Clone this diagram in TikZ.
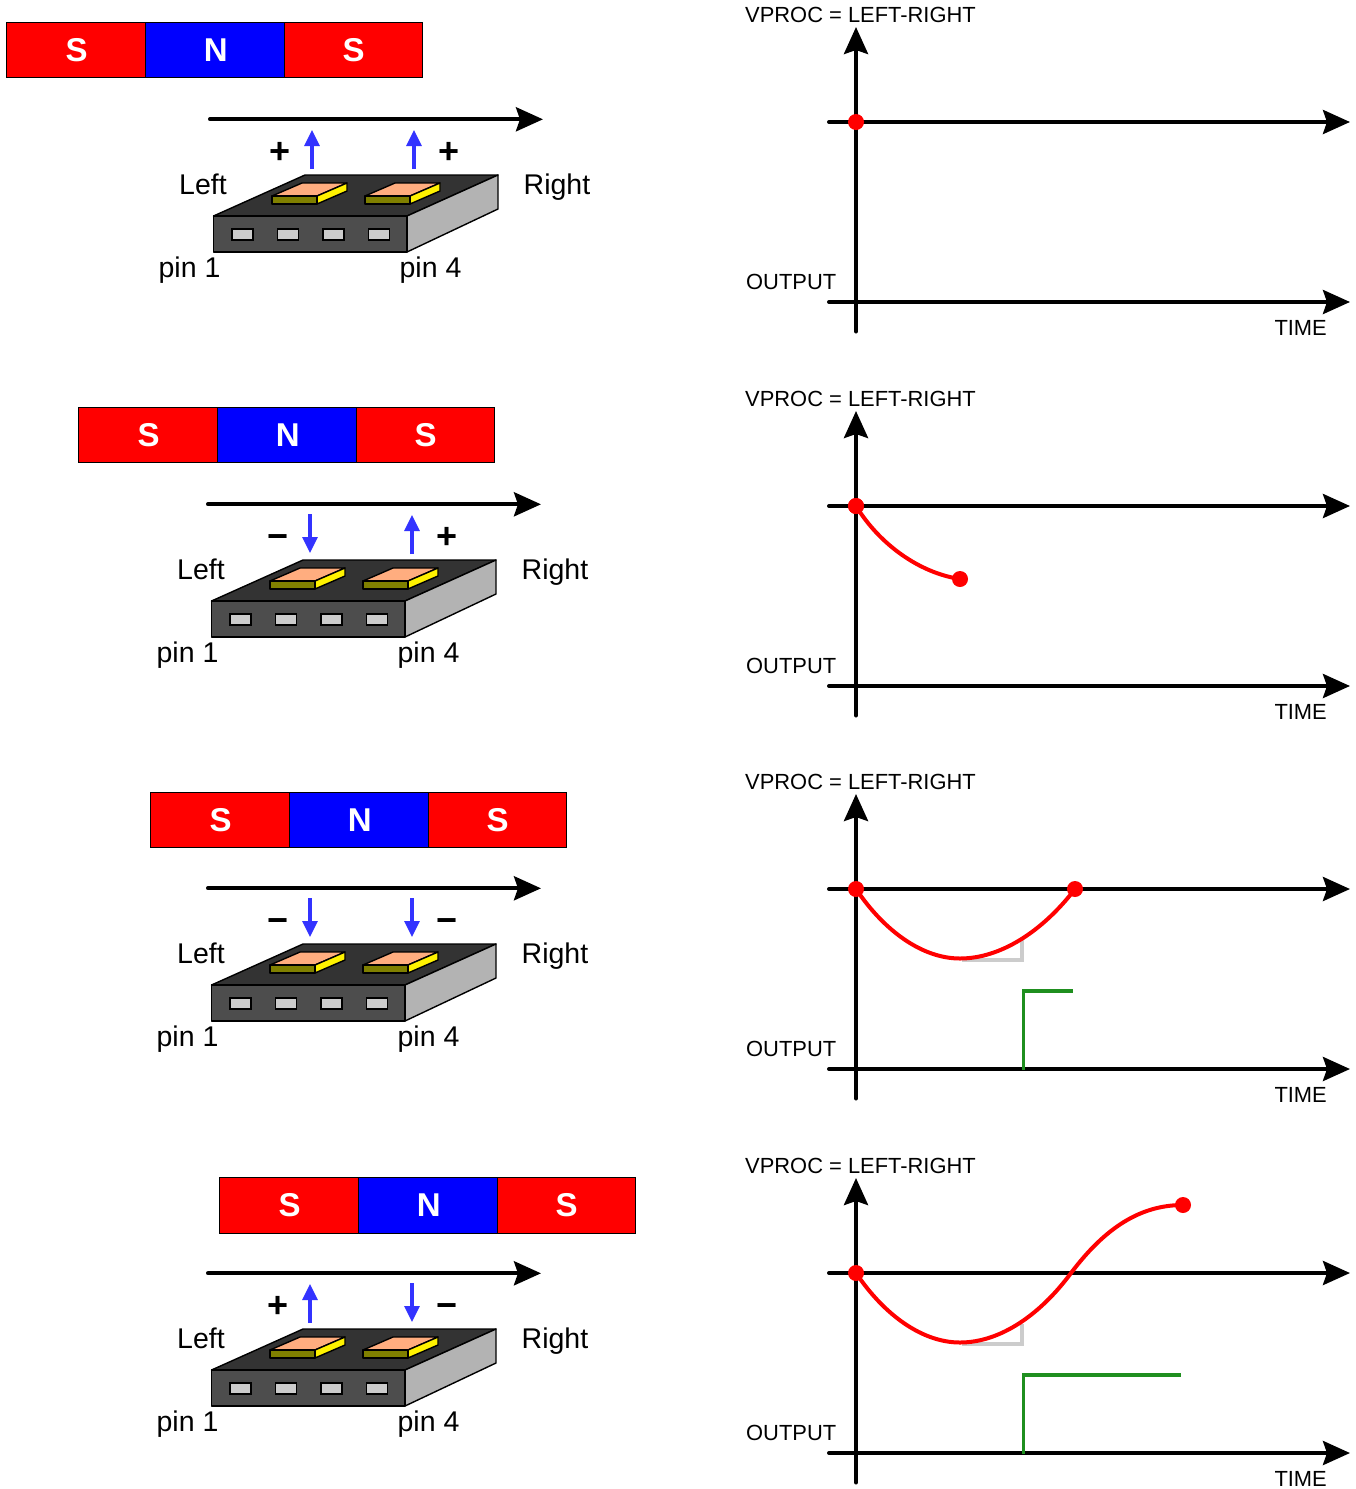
\documentclass[tikz,border=0pt]{standalone}
\usepackage{fontspec}
\setmainfont{Liberation Sans}
\usetikzlibrary{arrows.meta}
\definecolor{chipfront}{HTML}{4D4D4D}
\definecolor{chiptop}{HTML}{333333}
\definecolor{chipside}{HTML}{B3B3B3}
\definecolor{pinfill}{HTML}{CCCCCC}
\definecolor{padtop}{HTML}{FFAD7F}
\definecolor{padfront}{HTML}{808000}
\definecolor{fieldblue}{HTML}{3333FF}
\definecolor{outgreen}{HTML}{1F8F1F}
\tikzset{
  segS/.style={draw=black,line width=1pt,fill=red,minimum width=138.6pt,minimum height=55.5pt,inner sep=0pt,text=white,font=\fontsize{33}{33}\selectfont\bfseries},
  segN/.style={segS,fill=blue},
  bigarrow/.style={line width=4pt,line cap=round,-{Stealth[length=27pt,width=24pt,inset=4pt]}},
  fieldarrow/.style={draw=fieldblue,line width=3.1pt,-{Stealth[length=16pt,width=15pt,inset=0pt]}},
  facet/.style={draw=black,line width=1.4pt,line join=round},
  chiplabel/.style={font=\fontsize{28.5}{28.5}\selectfont,inner sep=0pt,text height=21pt,text depth=0pt},
  signlabel/.style={font=\fontsize{36}{36}\selectfont\bfseries,inner sep=0pt,text height=23pt,text depth=0pt},
  chartlabel/.style={font=\fontsize{21.9}{21.9}\selectfont,inner sep=0pt},
  redcurve/.style={draw=red,line width=4pt},
  reddot/.style={circle,fill=red,minimum size=16pt,inner sep=0pt},
  graymark/.style={draw=pinfill,line width=3.1pt},
  greenline/.style={draw=outgreen,line width=3.1pt},
}
% id, left x, centre y
\newcommand{\magnetbar}[3]{%
  \node[segS] (#1a) at (#2+69.2,#3) {\raisebox{-1.6pt}{\hspace{1pt}S}};
  \node[segN] (#1b) at (#2+208,#3) {\raisebox{-1.6pt}{\hspace{1.5pt}N}};
  \node[segS] (#1c) at (#2+346.6,#3) {\raisebox{-1.6pt}{S}};
}
% id, dx, dy, left sign, left tail y, left tip y, right sign, right tail y, right tip y
\newcommand{\sensorchip}[9]{%
  \begin{scope}[shift={(#2,#3)}]
    \coordinate (#1p) at (210,119.3); \coordinate (#1q) at (543,119.3);
    \draw[bigarrow] (#1p) -- (#1q);
    \draw[facet,fill=chiptop] (213.5,216) -- (305,175) -- (498,175) -- (407,216) -- cycle;
    \draw[facet,fill=chipside] (407,216) -- (498,175) -- (498,209) -- (407,252) -- cycle;
    \draw[facet,fill=chipfront] (213.5,216) rectangle (407,252);
    \foreach \px in {232,277.5,323,368.5}
      \draw[black,line width=1.2pt,fill=pinfill] (\px,229) rectangle (\px+21,240);
    \foreach \ox in {0,93}{
      \begin{scope}[shift={(\ox,0)}]
        \draw[facet,fill=padtop] (272,196) -- (302,183) -- (347,183) -- (317,196) -- cycle;
        \draw[facet,fill=yellow] (317,196) -- (347,183) -- (347,191) -- (317,204) -- cycle;
        \draw[facet,fill=padfront] (272,196) rectangle (317,204);
      \end{scope}}
    \coordinate (#1lt) at (312,#5); \coordinate (#1lh) at (312,#6);
    \coordinate (#1rt) at (414,#8); \coordinate (#1rh) at (414,#9);
    \draw[fieldarrow] (#1lt) -- (#1lh);
    \draw[fieldarrow] (#1rt) -- (#1rh);
    \node[signlabel] (#1ls) at (279.6,151.6) {#4};
    \node[signlabel] (#1rs) at (448.6,151.6) {#7};
    \node[chiplabel] (#1left) at (203,184) {Left};
    \node[chiplabel] (#1right) at (557,184) {Right};
    \node[chiplabel] (#1pa) at (189.5,267) {pin 1};
    \node[chiplabel] (#1pb) at (430.5,267) {pin 4};
  \end{scope}}
% id, dy, extra content
\newcommand{\chartframe}[3]{%
  \begin{scope}[shift={(0,#2)}]
    \coordinate (#1vb) at (856,331.5); \coordinate (#1vt) at (856,27);
    \coordinate (#1ha) at (829,122); \coordinate (#1hb) at (1350,122);
    \coordinate (#1oa) at (829,302); \coordinate (#1ob) at (1350,302);
    #3
    \draw[bigarrow] (#1vb) -- (#1vt);
    \draw[bigarrow] (#1ha) -- (#1hb);
    \draw[bigarrow] (#1oa) -- (#1ob);
    \node[chartlabel,anchor=west] (#1vp) at (745,14.5) {VPROC = LEFT-RIGHT};
    \node[chartlabel,anchor=west] (#1out) at (746,282) {OUTPUT};
    \node[chartlabel,anchor=east] (#1time) at (1327,328) {TIME};
  \end{scope}}
\begin{document}
\begin{tikzpicture}[x=1pt,y=-1pt]
\useasboundingbox (0,0) rectangle (1356,1489);
\magnetbar{ma}{7}{50}
\magnetbar{mb}{79}{435}
\magnetbar{mc}{151}{820}
\magnetbar{md}{220}{1205.5}
\sensorchip{ca}{0}{0}{+}{169}{130}{+}{169}{130}
\sensorchip{cb}{-2}{385}{−}{129}{168}{+}{169}{130}
\sensorchip{cc}{-2}{769}{−}{129}{168}{−}{129}{168}
\sensorchip{cd}{-2}{1154}{+}{169}{130}{−}{129}{168}
\chartframe{ga}{0}{}
\chartframe{gb}{384}{}
\chartframe{gc}{767}{}
\chartframe{gd}{1151}{}
% chart 1
\node[reddot] (d1) at (856,122) {};
% chart 2
\node[reddot] (d2a) at (856,506) {};
\node[reddot] (d2b) at (960,579) {};
\draw[redcurve] (d2a.center) .. controls (880,545) and (920,573) .. (d2b.center);
\node[reddot] at (d2a) {};
% chart 3
\coordinate (g3a) at (962,960); \coordinate (g3b) at (1022,960); \coordinate (g3c) at (1022,940);
\draw[graymark] (g3a) -- (g3b) -- (g3c);
\node[reddot] (d3a) at (856,889) {};
\node[reddot] (d3b) at (1075,889) {};
\draw[redcurve] (d3a.center) .. controls (885,932) and (923,958.5) .. (960,958.5)
  .. controls (1000,958.5) and (1042,932) .. (d3b.center);
\coordinate (o3a) at (1023.5,1070); \coordinate (o3b) at (1023.5,991); \coordinate (o3c) at (1073,991);
\draw[greenline] (o3a) -- (o3b) -- (o3c);
% chart 4
\coordinate (g4a) at (962,1344); \coordinate (g4b) at (1022,1344); \coordinate (g4c) at (1022,1324);
\draw[graymark] (g4a) -- (g4b) -- (g4c);
\node[reddot] (d4a) at (856,1273) {};
\node[reddot] (d4b) at (1183,1205) {};
\draw[redcurve] (d4a.center) .. controls (885,1316) and (923,1342.5) .. (960,1342.5)
  .. controls (1000,1342.5) and (1040,1315) .. (1071,1273)
  .. controls (1105,1228) and (1140,1205) .. (d4b.center);
\coordinate (o4a) at (1023.5,1454); \coordinate (o4b) at (1023.5,1375); \coordinate (o4c) at (1181,1375);
\draw[greenline] (o4a) -- (o4b) -- (o4c);
\end{tikzpicture}
\end{document}
